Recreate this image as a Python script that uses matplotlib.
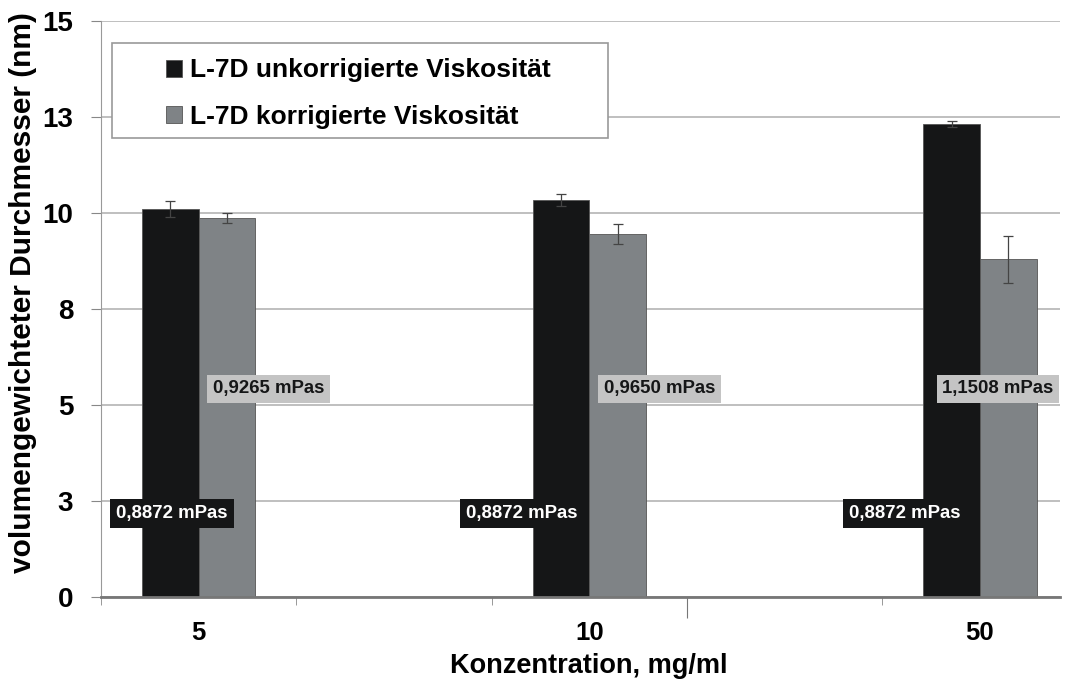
import numpy as np
import matplotlib.pyplot as plt
from matplotlib.patches import Rectangle

# data
konz = ['5', '10', '50']
d_unkorr = [10.10, 10.34, 12.32]
err_unkorr = [0.21, 0.15, 0.08]
d_korr = [9.88, 9.45, 8.79]
err_korr = [0.13, 0.26, 0.62]
visk_unkorr = ['0,8872 mPas', '0,8872 mPas', '0,8872 mPas']
visk_korr = ['0,9265 mPas', '0,9650 mPas', '1,1508 mPas']
yticks = [0, 2.5, 5, 7.5, 10, 12.5, 15]
ylabels = ['0', '3', '5', '8', '10', '13', '15']

c_black = '#151617'
c_gray = '#7f8386'

plt.rcParams['font.family'] = ['Liberation Sans', 'DejaVu Sans']
plt.rcParams['font.weight'] = 'bold'

fig = plt.figure(figsize=(10.65, 6.84), dpi=100)
ax = fig.add_axes([0.0948, 0.1272, 0.9005, 0.8421])

x = np.arange(len(konz))
w = 0.145

ax.set_axisbelow(True)
ax.yaxis.grid(True, color='#b4b4b4', lw=1.2)

ax.bar(x - w / 2, d_unkorr, w, color=c_black, edgecolor='#555555', lw=0.6,
       label='L-7D unkorrigierte Viskosität')
ax.bar(x + w / 2, d_korr, w, color=c_gray, edgecolor='#555555', lw=0.6,
       label='L-7D korrigierte Viskosität')
ax.errorbar(x - w / 2, d_unkorr, yerr=err_unkorr, fmt='none', ecolor='#444444',
            elinewidth=0.9, capsize=3.5, capthick=0.9)
ax.errorbar(x + w / 2, d_korr, yerr=err_korr, fmt='none', ecolor='#444444',
            elinewidth=0.9, capsize=3.5, capthick=0.9)

# viscosity labels
off_black = [-0.068, -0.173, -0.192]
off_gray = [0.179, 0.180, 0.046]
for i in range(len(konz)):
    ax.text(x[i] + off_black[i], 2.17, visk_unkorr[i], color='white',
            fontsize=13.4, fontweight='bold', ha='center', va='center',
            bbox=dict(boxstyle='square,pad=0.33', fc=c_black, ec='none'))
    ax.text(x[i] + off_gray[i], 5.42, visk_korr[i], color=c_black,
            fontsize=13.4, fontweight='bold', ha='center', va='center',
            bbox=dict(boxstyle='square,pad=0.3', fc='#c4c4c4', ec='none'))

ax.set_xlim(-0.25, 2.205)
ax.set_ylim(0, 15)
ax.set_yticks(yticks)
ax.set_yticklabels(ylabels, fontsize=20, fontweight='bold')
ax.tick_params(axis='y', length=7, color='#888888', pad=13)

ax.set_xticks(x)
ax.set_xticklabels(konz, fontsize=18.5, fontweight='bold')
ax.set_xticks([-0.25, 0.25, 0.75, 1.75], minor=True)
ax.tick_params(axis='x', which='major', length=0, pad=17)
ax.tick_params(axis='x', which='minor', length=6, color='#888888')
sec = ax.secondary_xaxis('bottom')
sec.set_xticks([1.25])
sec.set_xticklabels([''])
sec.tick_params(length=15, color='#777777')
sec.spines['bottom'].set_visible(False)

for s in ['top', 'right']:
    ax.spines[s].set_visible(False)
ax.spines['left'].set_color('#999999')
ax.spines['bottom'].set_color('#777777')
ax.spines['bottom'].set_linewidth(2)

ax.set_ylabel('volumengewichteter Durchmesser (nm)', fontsize=21.5,
              fontweight='bold')
ax.yaxis.set_label_coords(-0.0667, 0.529)
ax.set_xlabel('Konzentration, mg/ml', fontsize=19.5, fontweight='bold')
ax.xaxis.set_label_coords(0.509, -0.098)

# legend: frame drawn separately, it has wide inner margins
ax.add_patch(Rectangle((0.0115, 0.797), 0.517, 0.165, transform=ax.transAxes,
                       fc='white', ec='#999999', lw=1.2, zorder=4))
leg = ax.legend(loc='upper left', bbox_to_anchor=(0.0678, 0.935), fontsize=19,
                frameon=False, handlelength=0.6, handleheight=0.6,
                handletextpad=0.3, borderpad=0, labelspacing=0.85,
                borderaxespad=0)
leg.set_zorder(5)

fig.savefig('out.png', dpi=100)
